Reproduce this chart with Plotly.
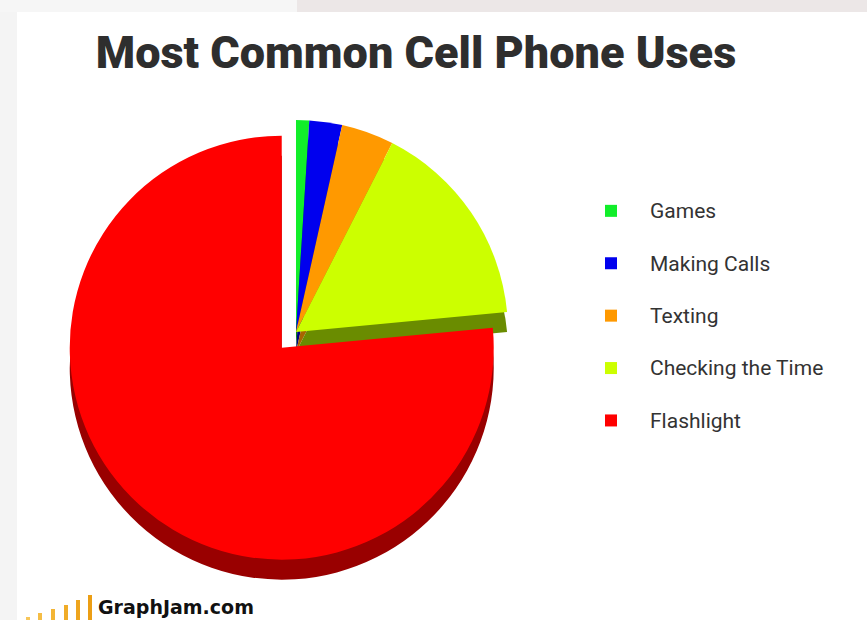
import plotly.graph_objects as go

# ---- data ----
categories = ["Games", "Making Calls", "Texting", "Checking the Time", "Flashlight"]
shares = [1, 2.5, 4, 16, 76.5]
colors = ["#11EE2A", "#0000EE", "#FF9900", "#CCFF00", "#FF0000"]
side_colors = ["#0A8A18", "#00007F", "#A86400", "#6A8C00", "#990000"]
pulls = [0, 0, 0, 0, 0.1]

W, H = 867, 620
cx, cy, r = 296, 332, 212        # pie centre (px from top-left) and radius
depth = 20                      # 3-D side thickness
pmax = max(pulls)
s = 2 * r * (1 + pmax)


def dom(dy=0):
    return dict(x=[(cx - s / 2) / W, (cx + s / 2) / W],
                y=[(H - cy - dy - s / 2) / H, (H - cy - dy + s / 2) / H])


# legend rows: first line shows the label, an empty second line gives row spacing
disp_labels = [f'<span style="font-size:21px">{c}</span><br> ' for c in categories]

fig = go.Figure()
# side (depth) layer
fig.add_trace(go.Pie(
    labels=disp_labels, values=shares, sort=False, direction="clockwise", rotation=0,
    marker=dict(colors=side_colors, line=dict(width=0)), pull=pulls,
    textinfo="none", hoverinfo="skip", showlegend=False, domain=dom(depth)))
# top face
fig.add_trace(go.Pie(
    labels=disp_labels, values=shares, sort=False, direction="clockwise", rotation=0,
    marker=dict(colors=colors, line=dict(width=0)), pull=pulls,
    textinfo="none", customdata=categories,
    hovertemplate="%{customdata}: %{value}%<extra></extra>",
    domain=dom(0)))

shapes = [
    dict(type="rect", xref="paper", yref="paper", x0=0, x1=17 / W, y0=0, y1=1,
         fillcolor="#F4F4F4", line=dict(width=0), layer="below"),
    dict(type="rect", xref="paper", yref="paper", x0=0, x1=297 / W, y0=1 - 12 / H, y1=1,
         fillcolor="#F6F6F6", line=dict(width=0), layer="below"),
    dict(type="rect", xref="paper", yref="paper", x0=297 / W, x1=1, y0=1 - 12 / H, y1=1,
         fillcolor="#ECE7E7", line=dict(width=0), layer="below"),
]
# GraphJam logo bars (decoration)
bar_x = [26, 38, 51, 64, 76, 88]
bar_h = [3, 7, 11, 15, 20, 25]
bar_c = ["#F7C65A", "#F5BD45", "#F3B535", "#F0AC28", "#EEA51E", "#EC9E14"]
for bx, bh, bc in zip(bar_x, bar_h, bar_c):
    shapes.append(dict(type="rect", xref="paper", yref="paper",
                       x0=bx / W, x1=(bx + 4) / W, y0=0, y1=bh / H,
                       fillcolor=bc, line=dict(width=0), layer="above"))

fig.update_layout(
    width=W, height=H,
    margin=dict(l=0, r=0, t=0, b=0),
    paper_bgcolor="white", plot_bgcolor="white",
    title=dict(text="Most Common Cell Phone Uses", x=416 / W, xanchor="center",
               y=1 - 52 / H, yanchor="middle",
               font=dict(family="Roboto, Liberation Sans, sans-serif",
                         size=45, color="#2E2E2E", weight=900)),
    legend=dict(x=572 / W, xanchor="left", y=1 - 192 / H, yanchor="top",
                font=dict(family="Roboto, Liberation Sans, sans-serif",
                          size=19, color="#333333"),
                valign="top", itemwidth=68, bgcolor="rgba(0,0,0,0)"),
    shapes=shapes,
    annotations=[dict(text="<b>GraphJam.com</b>", xref="paper", yref="paper",
                      x=96 / W, y=0, xanchor="left", yanchor="bottom", showarrow=False,
                      font=dict(family="DejaVu Sans", size=19, color="#111111"))],
)

fig.write_html("out.html", config={"displayModeBar": False},
               post_script="document.body.style.margin='0px';")
